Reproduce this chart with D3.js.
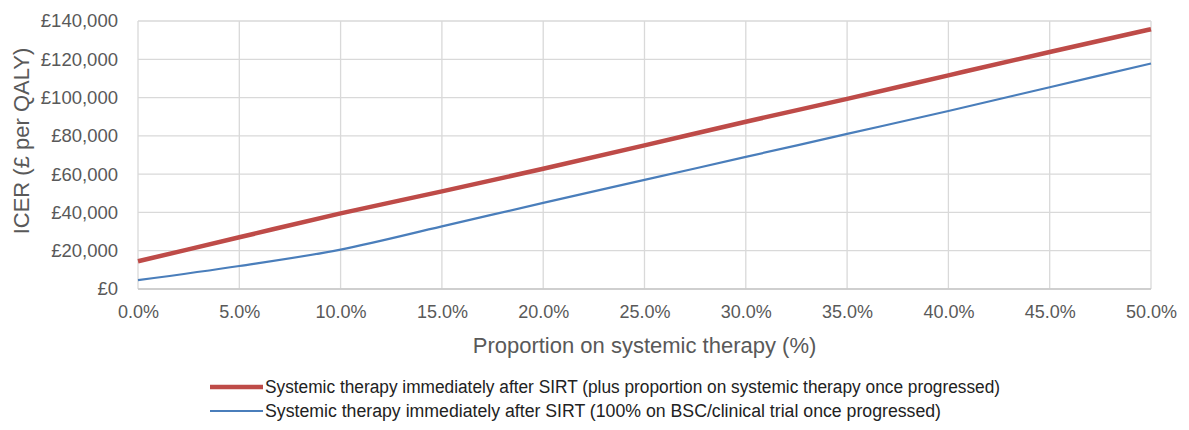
<!DOCTYPE html>
<html>
<head>
<meta charset="utf-8">
<script src="https://cdn.jsdelivr.net/npm/d3@7"></script>
<style>
  body { margin: 0; background: #fff; }
  svg { font-family: "Liberation Sans", Arial, sans-serif; }
</style>
</head>
<body>
<div id="chart"></div>
<script>
const proportions = [0, 0.05, 0.10, 0.15, 0.20, 0.25, 0.30, 0.35, 0.40, 0.45, 0.50];
const redValues = [14500, 27000, 39500, 51000, 62800, 75000, 87400, 99300, 111600, 123800, 135700];
const blueValues = [4600, 12000, 20600, 32700, 45000, 57000, 69000, 81000, 93000, 105400, 117800];
const yTicks = [0, 20000, 40000, 60000, 80000, 100000, 120000, 140000];
const xTicks = [0, 0.05, 0.10, 0.15, 0.20, 0.25, 0.30, 0.35, 0.40, 0.45, 0.50];
const seriesNames = [
  "Systemic therapy immediately after SIRT (plus proportion on systemic therapy once progressed)",
  "Systemic therapy immediately after SIRT (100% on BSC/clinical trial once progressed)"
];

const width = 1189, height = 430;
const margin = { top: 21, right: 38, bottom: 141, left: 138 };
const innerW = width - margin.left - margin.right;
const innerH = height - margin.top - margin.bottom;

const svg = d3.select("#chart").append("svg")
  .attr("width", width)
  .attr("height", height);

const g = svg.append("g")
  .attr("transform", `translate(${margin.left},${margin.top})`);

const x = d3.scaleLinear().domain([0, 0.5]).range([0, innerW]);
const y = d3.scaleLinear().domain([0, 140000]).range([innerH, 0]);

// gridlines
g.append("g")
  .selectAll("line.h")
  .data(yTicks)
  .join("line")
  .attr("x1", 0).attr("x2", innerW)
  .attr("y1", d => y(d)).attr("y2", d => y(d))
  .attr("stroke", "#d9d9d9").attr("stroke-width", 1.3);

g.append("g")
  .selectAll("line.v")
  .data(xTicks)
  .join("line")
  .attr("x1", d => x(d)).attr("x2", d => x(d))
  .attr("y1", 0).attr("y2", innerH)
  .attr("stroke", "#d9d9d9").attr("stroke-width", 1.3);

// bottom axis line
g.append("line")
  .attr("x1", 0).attr("x2", innerW)
  .attr("y1", innerH).attr("y2", innerH)
  .attr("stroke", "#c8c8c8").attr("stroke-width", 1.5);

// Y axis labels
const yAxis = g.append("g")
  .call(d3.axisLeft(y).tickValues(yTicks).tickSize(0).tickPadding(20)
    .tickFormat(d => "£" + d3.format(",")(d)));
yAxis.select(".domain").remove();
yAxis.selectAll("text")
  .attr("fill", "#595959")
  .style("font-size", "18.5px")
  .style("font-family", "Liberation Sans, Arial, sans-serif");

// X axis labels
const xAxis = g.append("g")
  .attr("transform", `translate(0,${innerH})`)
  .call(d3.axisBottom(x).tickValues(xTicks).tickSize(0).tickPadding(16)
    .tickFormat(d3.format(".1%")));
xAxis.select(".domain").remove();
xAxis.selectAll("text")
  .attr("fill", "#595959")
  .style("font-size", "18px")
  .style("font-family", "Liberation Sans, Arial, sans-serif");

// lines
const line = d3.line()
  .x((d, i) => x(proportions[i]))
  .y(d => y(d))
  .curve(d3.curveMonotoneX);

g.append("path")
  .datum(blueValues)
  .attr("fill", "none")
  .attr("stroke", "#4a7ebb")
  .attr("stroke-width", 2.2)
  .attr("d", line);

g.append("path")
  .datum(redValues)
  .attr("fill", "none")
  .attr("stroke", "#be4b48")
  .attr("stroke-width", 4.5)
  .attr("d", line);

// axis titles
svg.append("text")
  .attr("transform", `translate(29,${margin.top + innerH / 2 - 14}) rotate(-90)`)
  .attr("text-anchor", "middle")
  .attr("fill", "#595959")
  .style("font-size", "22px")
  .text("ICER (£ per QALY)");

svg.append("text")
  .attr("x", margin.left + innerW / 2)
  .attr("y", 353)
  .attr("text-anchor", "middle")
  .attr("fill", "#595959")
  .style("font-size", "22px")
  .text("Proportion on systemic therapy (%)");

// legend
const legendColors = ["#be4b48", "#4a7ebb"];
const legendWidths = [4.5, 2.2];
const legendTextLen = [735, 676];
const legend = svg.append("g").attr("transform", "translate(210,387)");
seriesNames.forEach((name, i) => {
  const row = legend.append("g").attr("transform", `translate(0,${i * 24})`);
  row.append("line")
    .attr("x1", 0).attr("x2", 53)
    .attr("y1", 0).attr("y2", 0)
    .attr("stroke", legendColors[i])
    .attr("stroke-width", legendWidths[i]);
  row.append("text")
    .attr("x", 55)
    .attr("y", 6)
    .attr("fill", "#222")
    .attr("textLength", legendTextLen[i])
    .attr("lengthAdjust", "spacingAndGlyphs")
    .style("font-size", "18px")
    .text(name);
});
</script>
</body>
</html>
